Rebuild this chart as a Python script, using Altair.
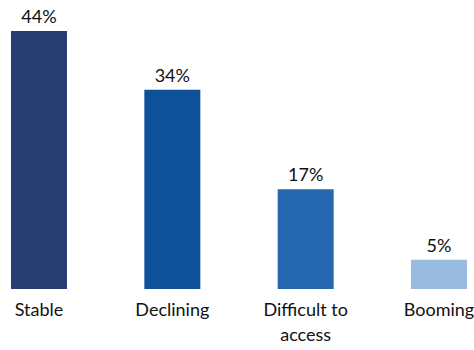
import altair as alt
import pandas as pd

categories = ["Stable", "Declining", "Difficult to access", "Booming"]
values = [44, 34, 17, 5]
colors = ["#253D70", "#0E5198", "#2668AF", "#99BBE0"]
labels = ["44%", "34%", "17%", "5%"]

df = pd.DataFrame({"cat": categories, "val": values, "col": colors, "lab": labels})

FONT = "Lato"

x = alt.X("cat:N", sort=categories, title=None,
          scale=alt.Scale(paddingInner=0.58, paddingOuter=0),
          axis=alt.Axis(labelAngle=0, domain=False, ticks=False, labelFont=FONT,
                        labelFontSize=18, labelColor="#111111",
                        labelPadding=12, labelLineHeight=25, labelLimit=200,
                        labelExpr="datum.label == 'Difficult to access' ? ['Difficult to', 'access'] : datum.label"))
y = alt.Y("val:Q", scale=alt.Scale(domain=[0, 44], nice=False), axis=None)

bars = alt.Chart(df).mark_bar().encode(x=x, y=y, color=alt.Color("col:N", scale=None))
text = alt.Chart(df).mark_text(dy=-8, baseline="alphabetic", font=FONT, fontSize=18,
                               color="#111111").encode(x=x, y=y, text="lab:N")

chart = (bars + text).properties(
    width=456, height=258, autosize="none",
    padding={"left": 11, "top": 31, "right": 7, "bottom": 61},
).configure_view(stroke=None)

chart.save("out.html", embed_options={"renderer": "svg", "actions": False})
